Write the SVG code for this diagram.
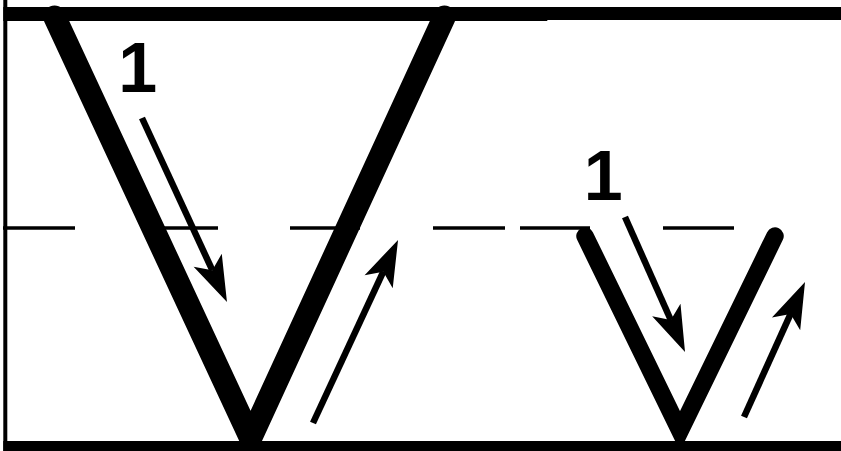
<svg xmlns="http://www.w3.org/2000/svg" width="841" height="451" viewBox="0 0 841 451">
<defs>
<style>
.dash{stroke:#000;stroke-width:3.5;fill:none}
.stroke{fill:none;stroke:#000;stroke-linecap:round;stroke-linejoin:miter;stroke-miterlimit:10}
.arrow{fill:none;stroke:#000;stroke-width:6.5;stroke-linecap:butt;marker-end:url(#ah)}
.num{font-family:"Liberation Sans",Arial,sans-serif;font-weight:bold;font-size:70px;fill:#000;text-anchor:middle}
</style>
<marker id="ah" markerUnits="userSpaceOnUse" viewBox="-15 -18 55 36" markerWidth="55" markerHeight="36" refX="0" refY="0" orient="auto" overflow="visible">
<path d="M35,0 L-11,-15.5 L0,0 L-11,15.5 Z" fill="#000"/>
</marker>
</defs>
<rect width="841" height="451" fill="#fff"/>
<g id="guides">
<line class="dash" x1="3" y1="228" x2="75" y2="228"/>
<line class="dash" x1="146" y1="228" x2="218" y2="228"/>
<line class="dash" x1="290" y1="228" x2="360" y2="228"/>
<line class="dash" x1="433" y1="228" x2="505" y2="228"/>
<line class="dash" x1="520" y1="228" x2="590" y2="228"/>
<line class="dash" x1="663" y1="228" x2="734" y2="228"/>
</g>
<g id="big-v">
<path class="stroke" stroke-width="23" d="M54.7,17 L250.6,438.2 L444.3,17"/>
</g>
<g id="small-v">
<path class="stroke" stroke-width="17.5" d="M585,236 L680,431 L775,236"/>
</g>
<g id="connectors">
<line class="arrow" x1="142" y1="118" x2="212.3" y2="270.2"/>
<line class="arrow" x1="313" y1="423" x2="383.3" y2="271.7"/>
<line class="arrow" x1="625" y1="217" x2="670.8" y2="320"/>
<line class="arrow" x1="744" y1="417" x2="790.6" y2="313.9"/>
</g>
<g id="label-big"><text class="num" x="137.8" y="91.7">1</text></g>
<g id="label-small"><text class="num" x="603.3" y="200">1</text></g>
<g id="rules">
<rect x="3.3" y="7" width="544" height="14" fill="#000"/>
<rect x="547" y="7" width="294" height="13" fill="#000"/>
<rect x="3.3" y="441" width="837.7" height="10" fill="#000"/>
<rect x="3.3" y="0" width="4" height="451" fill="#000"/>
</g>
</svg>
